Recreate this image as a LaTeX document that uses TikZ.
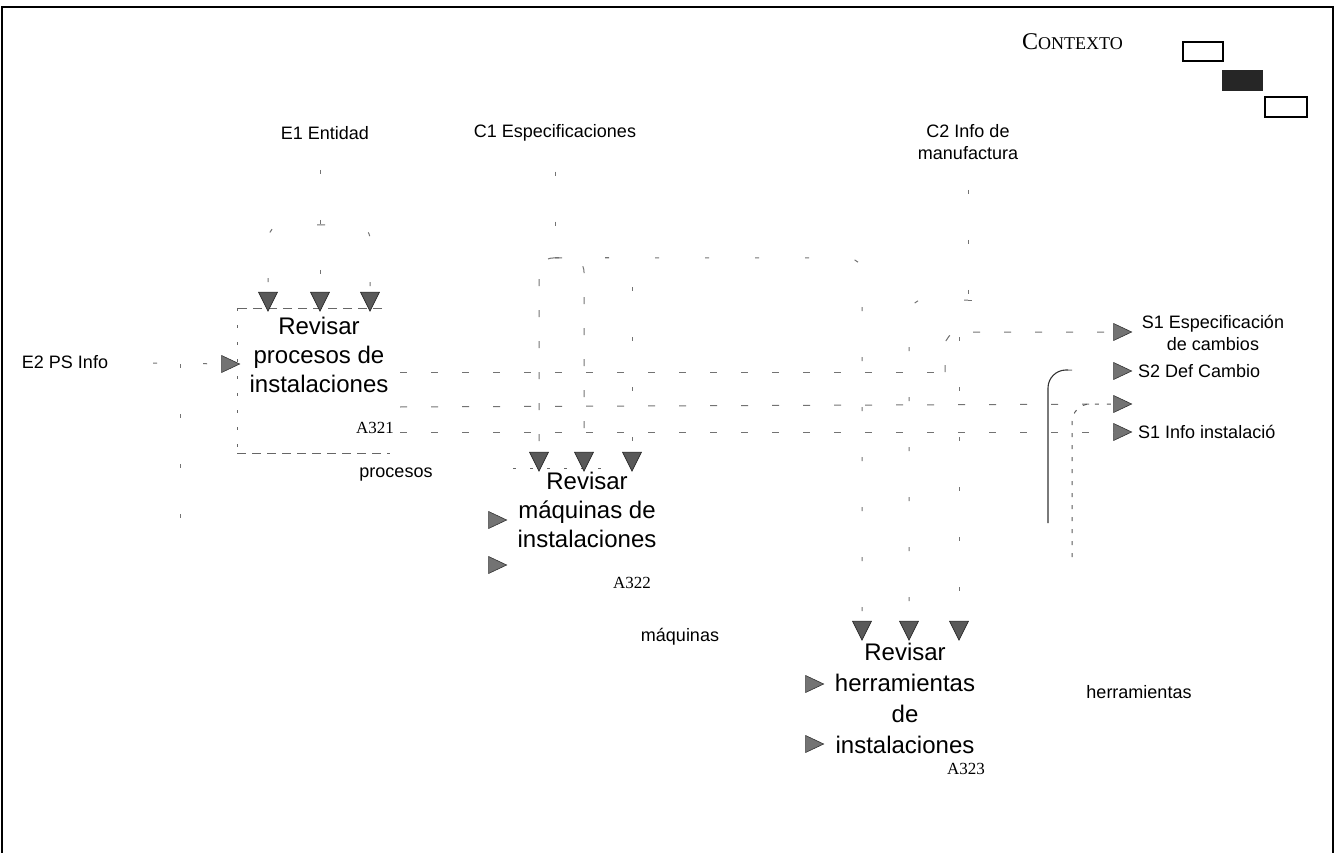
\documentclass[tikz,border=0pt]{standalone}
\usepackage{fontspec}
\setmainfont{Liberation Sans}
\newfontfamily\tnr{Liberation Serif}
\usetikzlibrary{shapes.geometric}

\begin{document}
\begin{tikzpicture}[x=1pt,y=-1pt,
  lbl/.style={font=\fontsize{18}{22}\selectfont, align=center, inner sep=0pt},
  act/.style={font=\fontsize{24}{29}\selectfont, align=center, inner sep=0pt},
  code/.style={font=\tnr\fontsize{17}{20}\selectfont, inner sep=0pt},
  ctl/.style={isosceles triangle, isosceles triangle stretches, shape border rotate=-90,
    minimum width=19pt, minimum height=19pt, inner sep=0pt, fill=black!65, draw=black!85, line width=0.6pt},
  inp/.style={isosceles triangle, isosceles triangle stretches,
    minimum width=17pt, minimum height=18pt, inner sep=0pt, fill=black!55, draw=black!80, line width=0.6pt},
  wire/.style={draw=black!55, line width=1pt, dash pattern=on 4pt off 46pt},
  row/.style={draw=black!55, line width=1pt, dash pattern=on 7pt off 24pt},
  boxline/.style={draw=black!60, line width=1pt, dash pattern=on 9pt off 6pt},
  sidel/.style={draw=black!60, line width=1pt, dash pattern=on 3pt off 14pt},
  solidwire/.style={draw=black!80, line width=1.1pt},
  finewire/.style={draw=black!65, line width=1pt, dash pattern=on 4pt off 8pt},
]
\useasboundingbox (0,0) rectangle (1342,853);

% outer frame, open at the bottom
\draw[line width=2.2pt] (2,853) -- (2,7) -- (1333,7) -- (1333,853);

% title and legend boxes
\node[anchor=base west, inner sep=0pt] (ttl) at (1022,50)
  {\tnr\fontsize{24}{26}\selectfont C\fontsize{18}{20}\selectfont ONTEXTO};
\draw[line width=1.6pt] (1183,42) rectangle (1223,61);
\fill[black!85] (1222,70) rectangle (1263,91);
\draw[line width=1.6pt] (1265,97) rectangle (1307,117);

% boundary labels
\node[lbl] (e1) at (325,133) {E1 Entidad};
\node[lbl] (c1) at (555,133) {C1 Especificaciones};
\node[lbl] (c2) at (968,142) {C2 Info de\\manufactura};
\node[lbl] (e2) at (65,362) {E2 PS Info};
\node[lbl] (s1) at (1213,333) {S1 Especificación\\de cambios};
\node[lbl, anchor=west] (s2) at (1138,371) {S2 Def Cambio};
\node[lbl, anchor=west] (s4) at (1138,432) {S1 Info instalació};

% activity A321
\draw[boxline] (382,308) -- (237,308);
\draw[sidel] (237,308) -- (237,453);
\draw[boxline] (237,453) -- (390,453);
\node[act, anchor=north] (b1) at (319,317) {Revisar\\procesos de\\instalaciones};
\node[code] (a1) at (375,428) {A321};
\node[lbl] (m1) at (396,475) {procesos};
\node[ctl] (t11) at (268,298) {};
\node[ctl] (t12) at (320,298) {};
\node[ctl] (t13) at (370,298) {};
\node[inp] (i1) at (227,364) {};

% activity A322
\draw[sidel] (513,468) -- (613,468);
\node[act, anchor=north] (b2) at (587,472) {Revisar\\máquinas de\\instalaciones};
\node[code] (a2) at (632,583) {A322};
\node[lbl] (m2) at (680,637) {máquinas};
\node[ctl] (t21) at (539,458) {};
\node[ctl] (t22) at (584,458) {};
\node[ctl] (t23) at (632,458) {};
\node[inp] (i21) at (494,520) {};
\node[inp] (i22) at (494,565) {};

% activity A323
\node[act, anchor=north, font=\fontsize{24}{31}\selectfont] (b3) at (905,643)
  {Revisar\\herramientas\\de\\instalaciones};
\node[code] (a3) at (966,769) {A323};
\node[lbl] (m3) at (1139,692) {herramientas};
\node[ctl] (t31) at (862,627) {};
\node[ctl] (t32) at (909,627) {};
\node[ctl] (t33) at (959,627) {};
\node[inp] (i31) at (811,684) {};
\node[inp] (i32) at (811,744) {};

% output arrowheads
\node[inp] (o1) at (1119,332) {};
\node[inp] (o2) at (1119,371) {};
\node[inp] (o3) at (1119,404) {};
\node[inp] (o4) at (1119,432) {};

% junctions and free ends
\coordinate (j1) at (321,225);
\coordinate (j2) at (555,258);
\coordinate (j3) at (968,300);
\coordinate (r1) at (400,372);
\coordinate (r2) at (400,407);
\coordinate (r3) at (400,432);
\coordinate (k1) at (945,372);
\coordinate (d1) at (180,364);
\coordinate (d2) at (180,560);
\coordinate (v1) at (1048,523);
\coordinate (v2) at (1072,557);
\coordinate (h1) at (1068,370);

% entity E1 into the controls of A321
\draw[wire, shorten <=30pt] (t12 |- e1.south) -- (t12);
\draw[wire, rounded corners=14pt] (j1) -| (t11);
\draw[wire, rounded corners=14pt] (j1) -| (t13);

% specifications C1
\draw[wire, shorten <=30pt] (c1) -- (j2);
\draw[row, rounded corners=14pt] (j2) -| (t21);
\draw[row, rounded corners=14pt] (j2) -| (t22);
\draw[wire, rounded corners=14pt] (j2) -| (t23);
\draw[wire, rounded corners=14pt] (j2) -| (t31);

% manufacturing info C2
\draw[wire, shorten <=30pt] (c2) -- (j3);
\draw[wire, rounded corners=14pt] (j3) -| (t32);
\draw[wire, rounded corners=14pt] (j3) -| (t33);

% input E2
\draw[wire, shorten <=45pt] (e2) -- (i1);
\draw[wire] (d1) -- (d2);

% outputs of A321
\draw[row] (r1) -- (k1);
\draw[row, rounded corners=14pt] (k1) |- (o1);
\draw[row] (r2) -- (o3);
\draw[row] (r3) -- (o4);

% returns along the right side
\draw[solidwire, rounded corners=18pt] (v1) |- (h1);
\draw[wire] (h1) -- (o2);
\draw[finewire, rounded corners=18pt] (v2) |- (o3);

\end{tikzpicture}
\end{document}
